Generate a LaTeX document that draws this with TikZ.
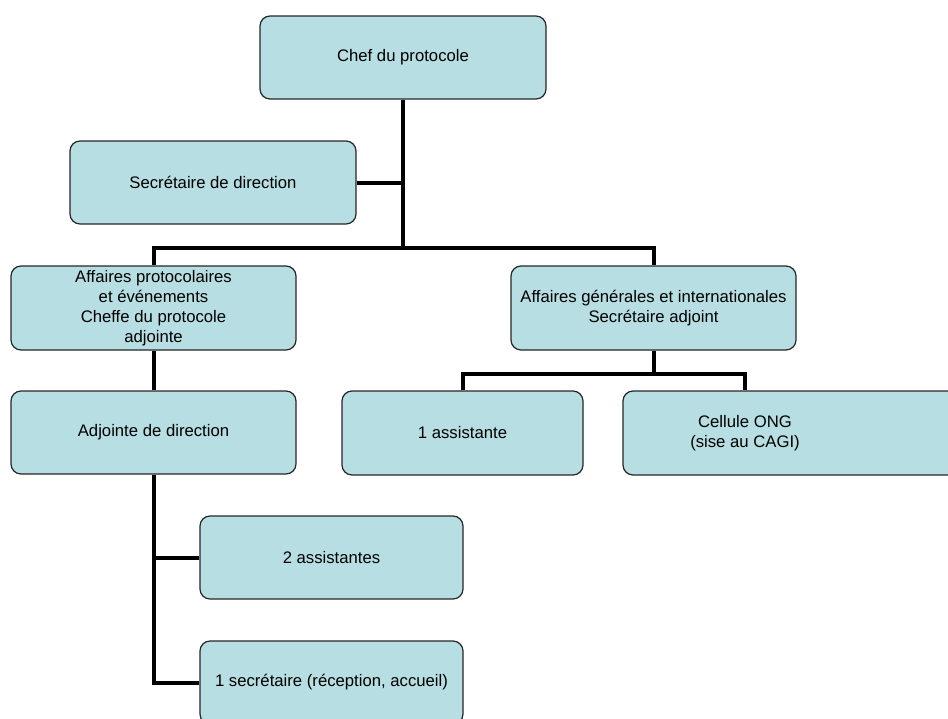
\documentclass[tikz,border=0pt]{standalone}
\usepackage{fontspec}
\setmainfont{Liberation Sans}
\begin{document}
\begin{tikzpicture}[x=1pt,y=-1pt,
  box/.style={draw=black!85, line width=1.2pt, fill=boxfill, rounded corners=10pt,
    align=center, inner sep=0pt, font=\fontsize{16.7}{20}\selectfont},
  plain/.style={align=center, inner sep=0pt, font=\fontsize{16.7}{20}\selectfont},
  link/.style={line width=4pt, draw=black}]
\definecolor{boxfill}{HTML}{B7DEE2}
\useasboundingbox (0,0) rectangle (948,718);
\clip (0,0) rectangle (948,718);
\node[box, minimum width=286pt, minimum height=83pt] (chef) at (403,57.5) {Chef du protocole};
\node[box, minimum width=286pt, minimum height=83pt] (sec) at (213,182.5) {Secrétaire de direction};
\node[box, minimum width=285pt, minimum height=84pt] (aff) at (153.5,308) {Affaires protocolaires\\et événements\\Cheffe du protocole\\adjointe};
\node[box, minimum width=285pt, minimum height=84pt] (gen) at (653.5,308) {Affaires générales et internationales\\Secrétaire adjoint};
\node[box, minimum width=285pt, minimum height=83pt] (adj) at (153.5,432.5) {Adjointe de direction};
\node[box, minimum width=241pt, minimum height=84pt] (ass1) at (462.5,433) {1 assistante};
\node[box, minimum width=340pt, minimum height=84pt] (ong) at (793,433) {};
\node[plain] (ongt) at (745,433) {Cellule ONG\\(sise au CAGI)};
\node[box, minimum width=263pt, minimum height=83pt] (two) at (331.5,557.5) {2 assistantes};
\node[box, minimum width=263pt, minimum height=83pt] (sec1) at (331.5,682.5) {1 secrétaire (réception, accueil)};
\coordinate (j1) at (403,248);
\coordinate (j2) at (653.5,374);
\draw[link] (chef.south) -- (j1);
\draw[link] (sec.east) -- (sec.east -| chef.south);
\draw[link] (aff.north) |- (j1) -| (gen.north);
\draw[link] (gen.south) -- (j2);
\draw[link] (ass1.north) |- (j2) -| (ongt |- ong.north);
\draw[link] (aff.south) -- (adj.north);
\draw[link] (adj.south) |- (sec1.west);
\draw[link] (adj.south |- two.west) -- (two.west);
\end{tikzpicture}
\end{document}
